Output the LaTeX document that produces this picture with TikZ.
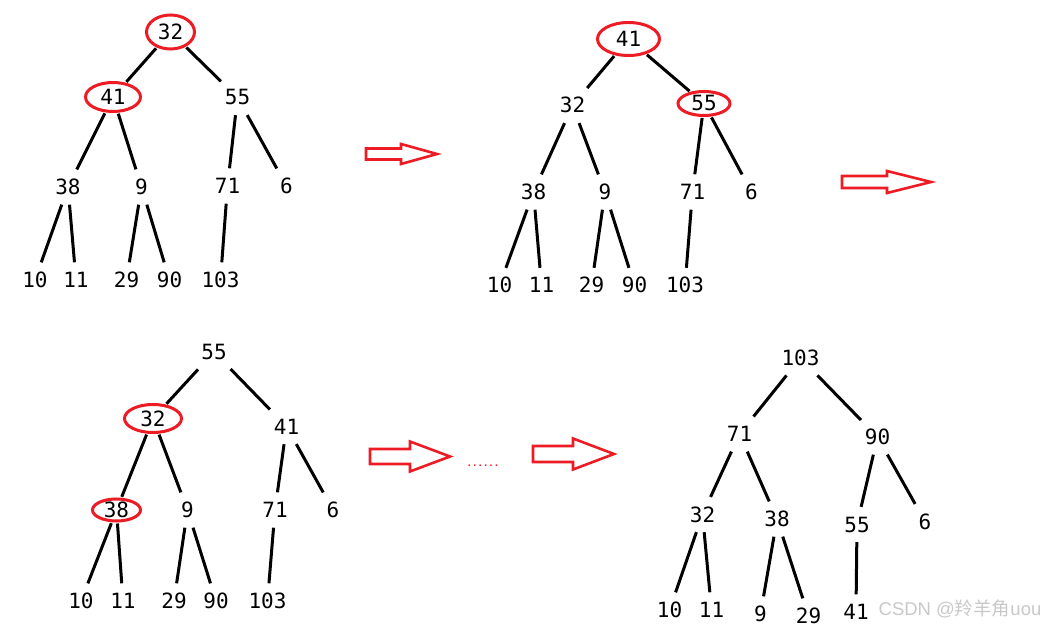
\documentclass[tikz,border=0pt]{standalone}
\usepackage{fontspec}
\usetikzlibrary{shapes.geometric}
\newfontfamily\numfont{DejaVu Sans Mono}
\newfontfamily\cjkfont{Noto Sans CJK SC}
\newfontfamily\wmfont{Liberation Sans}
\definecolor{paintred}{RGB}{237,28,36}
\definecolor{wmgray}{RGB}{200,200,200}
% hollow block arrow: left, head base, tip, mid y, half body, half head
\newcommand{\hollowarrow}[6]{%
  \draw[arrowline] (#1,#4-#5) -- (#2,#4-#5) -- (#2,#4-#6) -- (#3,#4)
    -- (#2,#4+#6) -- (#2,#4+#5) -- (#1,#4+#5) -- cycle;}
\tikzset{
  key/.style={font=\numfont\fontsize{21}{24}\selectfont,text height=15pt,text depth=0pt,inner xsep=3pt,inner ysep=9pt},
  ringed/.style={key,ellipse,draw=paintred,line width=3pt,inner sep=0pt},
  link/.style={line width=3pt,shorten <=1pt,shorten >=1pt},
  arrowline/.style={draw=paintred,line width=2.6pt,line join=miter}
}

\begin{document}
\begin{tikzpicture}[x=1pt,y=-1pt]
\useasboundingbox (0,0) rectangle (1050,628);

% tree 1
\node[ringed,minimum width=48pt,minimum height=34pt] (t1-1) at (170.5,32) {32};
\node[ringed,minimum width=55pt,minimum height=29pt] (t1-2) at (113,97) {41};
\node[key] (t1-3) at (237.5,97.5) {55};
\node[key] (t1-4) at (68,187) {38};
\node[key] (t1-5) at (141.5,187) {9};
\node[key] (t1-6) at (227.5,186) {71};
\node[key] (t1-7) at (286.5,186) {6};
\node[key] (t1-8) at (35,280) {10};
\node[key] (t1-9) at (76,280) {11};
\node[key] (t1-10) at (126.5,280) {29};
\node[key] (t1-11) at (169.5,280) {90};
\node[key] (t1-12) at (220.5,280) {103};

% tree 2
\node[ringed,minimum width=62pt,minimum height=33pt] (t2-1) at (628.5,39) {41};
\node[key] (t2-2) at (572.5,105.5) {32};
\node[ringed,minimum width=52pt,minimum height=24pt] (t2-3) at (704,103.5) {55};
\node[key] (t2-4) at (533.5,192) {38};
\node[key] (t2-5) at (605,192) {9};
\node[key] (t2-6) at (692.5,192) {71};
\node[key] (t2-7) at (751.5,192) {6};
\node[key] (t2-8) at (499.5,285.5) {10};
\node[key] (t2-9) at (541.5,285.5) {11};
\node[key] (t2-10) at (591.5,285.5) {29};
\node[key] (t2-11) at (634.5,285.5) {90};
\node[key] (t2-12) at (685,285.5) {103};

% tree 3
\node[key] (t3-1) at (214,352) {55};
\node[ringed,minimum width=57pt,minimum height=28pt] (t3-2) at (153,418.5) {32};
\node[key] (t3-3) at (286.5,426.5) {41};
\node[ringed,minimum width=48pt,minimum height=22pt] (t3-4) at (116.5,510) {38};
\node[key] (t3-5) at (187.5,510) {9};
\node[key] (t3-6) at (275,510) {71};
\node[key] (t3-7) at (333,510) {6};
\node[key] (t3-8) at (81,601) {10};
\node[key] (t3-9) at (123,601) {11};
\node[key] (t3-10) at (174,601) {29};
\node[key] (t3-11) at (216,601) {90};
\node[key] (t3-12) at (267.5,601) {103};

% tree 4
\node[key] (t4-1) at (800.5,358) {103};
\node[key] (t4-2) at (739.5,434) {71};
\node[key] (t4-3) at (877.5,437) {90};
\node[key] (t4-4) at (702.5,514.5) {32};
\node[key] (t4-5) at (777,519) {38};
\node[key] (t4-6) at (857,524.5) {55};
\node[key] (t4-7) at (925,521.5) {6};
\node[key] (t4-8) at (669.5,610) {10};
\node[key] (t4-9) at (711.5,610) {11};
\node[key] (t4-10) at (760.5,614) {9};
\node[key] (t4-11) at (808.5,616) {29};
\node[key] (t4-12) at (856,612) {41};

% heap edges, same shape in every tree
\foreach \t in {1,...,4}
  \foreach \p/\c in {1/2,1/3,2/4,2/5,3/6,3/7,4/8,4/9,5/10,5/11,6/12}
    \draw[link] (t\t-\p) -- (t\t-\c);

% arrows between the steps
\hollowarrow{366}{401}{437}{154}{5.5}{10}
\hollowarrow{842}{887}{931}{182}{6}{11}
\hollowarrow{370}{410}{450}{456.5}{7.5}{15}
\hollowarrow{533}{573}{614}{454}{8}{15.5}
\node[font=\numfont\bfseries\fontsize{9}{10}\selectfont,text=paintred,inner sep=0pt] (dots) at (483,466) {......};

\node[text=wmgray,inner sep=0pt] (wm) at (960,609) {\wmfont\fontsize{18.5}{20}\selectfont CSDN @{\cjkfont 羚羊角}uou};
\end{tikzpicture}
\end{document}
